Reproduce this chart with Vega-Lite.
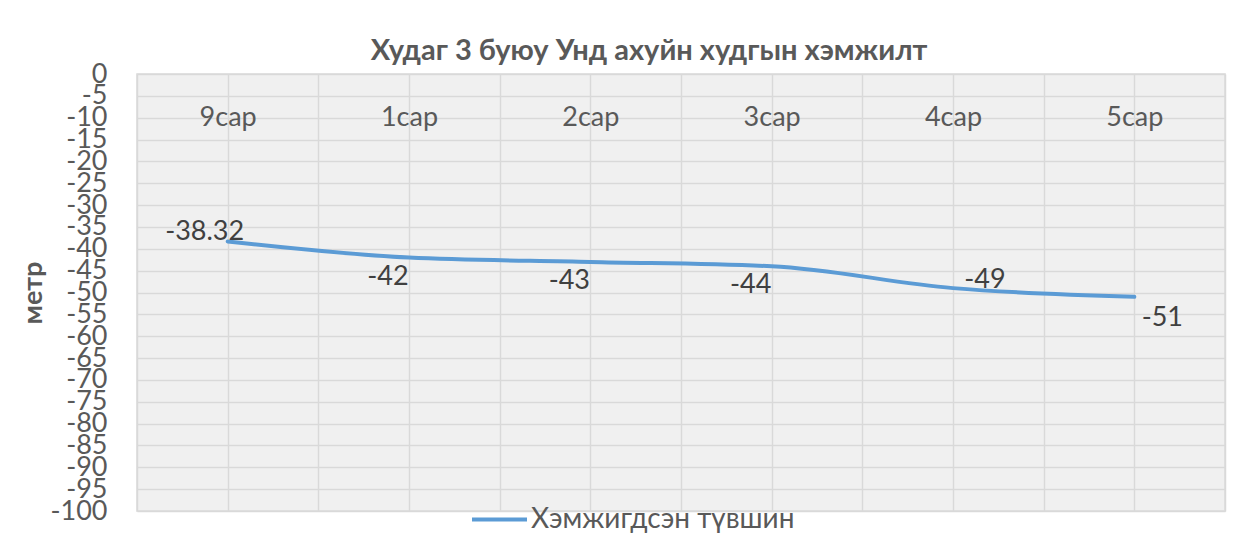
{
  "$schema": "https://vega.github.io/schema/vega-lite/v6.json",
  "width": 1088,
  "height": 437,
  "autosize": {"type": "none"},
  "padding": {"left": 137, "top": 74, "right": 19, "bottom": 44},
  "background": "white",
  "config": {
    "font": "Lato",
    "view": {"fill": "#f0f0f0", "stroke": "#d9d9d9", "strokeWidth": 1.5},
    "axis": {"gridColor": "#d9d9d9", "gridWidth": 1.5, "domain": false, "ticks": false, "labelColor": "#595959", "labelFont": "Lato"}
  },
  "title": {
    "text": "Худаг 3 буюу Унд ахуйн худгын хэмжилт",
    "font": "Lato",
    "fontSize": 29,
    "fontWeight": "bold",
    "color": "#595959",
    "anchor": "middle",
    "frame": "group",
    "dx": -32,
    "offset": -6
  },
  "data": {
    "values": [
      {"idx": 0, "month": "9сар", "value": -38.32, "label": "-38.32", "pos": "a", "series": "Хэмжигдсэн түвшин"},
      {"idx": 1, "month": "1сар", "value": -42, "label": "-42", "pos": "b", "series": "Хэмжигдсэн түвшин"},
      {"idx": 2, "month": "2сар", "value": -43, "label": "-43", "pos": "b", "series": "Хэмжигдсэн түвшин"},
      {"idx": 3, "month": "3сар", "value": -44, "label": "-44", "pos": "b", "series": "Хэмжигдсэн түвшин"},
      {"idx": 4, "month": "4сар", "value": -49, "label": "-49", "pos": "c", "series": "Хэмжигдсэн түвшин"},
      {"idx": 5, "month": "5сар", "value": -51, "label": "-51", "pos": "d", "series": "Хэмжигдсэн түвшин"}
    ]
  },
  "encoding": {
    "x": {
      "field": "idx",
      "type": "quantitative",
      "scale": {"domain": [-0.5, 5.5], "nice": false, "zero": false},
      "axis": {
        "orient": "top",
        "title": null,
        "values": [-0.5, 0, 0.5, 1, 1.5, 2, 2.5, 3, 3.5, 4, 4.5, 5, 5.5],
        "labelExpr": "datum.value == 0 ? '9сар' : datum.value == 1 ? '1сар' : datum.value == 2 ? '2сар' : datum.value == 3 ? '3сар' : datum.value == 4 ? '4сар' : datum.value == 5 ? '5сар' : ''",
        "labelFontSize": 27,
        "labelBaseline": "middle",
        "labelPadding": -43,
        "labelFlush": false,
        "labelOverlap": false,
        "grid": true
      }
    },
    "y": {
      "field": "value",
      "type": "quantitative",
      "scale": {"domain": [-100, 0], "nice": false},
      "axis": {
        "values": [0, -5, -10, -15, -20, -25, -30, -35, -40, -45, -50, -55, -60, -65, -70, -75, -80, -85, -90, -95, -100],
        "labelExpr": "datum.value + ''",
        "labelFontSize": 27,
        "labelPadding": 30,
        "labelOverlap": false,
        "labelFlush": false,
        "labelBaseline": "middle",
        "title": "метр",
        "titleFont": "Lato",
        "titleFontSize": 27,
        "titleFontWeight": "bold",
        "titleColor": "#595959",
        "titlePadding": 2,
        "grid": true
      }
    }
  },
  "layer": [
    {
      "mark": {"type": "line", "strokeWidth": 4, "interpolate": "monotone", "strokeCap": "round"},
      "encoding": {
        "color": {
          "field": "series",
          "type": "nominal",
          "scale": {"range": ["#5B9BD5"]},
          "legend": {
            "orient": "none",
            "legendX": 333,
            "legendY": 416,
            "title": null,
            "symbolType": "stroke",
            "symbolSize": 3025,
            "symbolStrokeWidth": 4,
            "labelFontSize": 28,
            "labelColor": "#595959",
            "labelFont": "Lato",
            "labelOffset": 2,
            "labelLimit": 400
          }
        }
      }
    },
    {
      "transform": [{"filter": "datum.pos == 'a'"}],
      "mark": {"type": "text", "fontSize": 27, "color": "#404040", "dx": -23, "dy": -9},
      "encoding": {"text": {"field": "label"}}
    },
    {
      "transform": [{"filter": "datum.pos == 'b'"}],
      "mark": {"type": "text", "fontSize": 27, "color": "#404040", "dx": -21, "dy": 19},
      "encoding": {"text": {"field": "label"}}
    },
    {
      "transform": [{"filter": "datum.pos == 'c'"}],
      "mark": {"type": "text", "fontSize": 27, "color": "#404040", "dx": 32, "dy": -8},
      "encoding": {"text": {"field": "label"}}
    },
    {
      "transform": [{"filter": "datum.pos == 'd'"}],
      "mark": {"type": "text", "fontSize": 27, "color": "#404040", "dx": 28, "dy": 21},
      "encoding": {"text": {"field": "label"}}
    }
  ]
}
